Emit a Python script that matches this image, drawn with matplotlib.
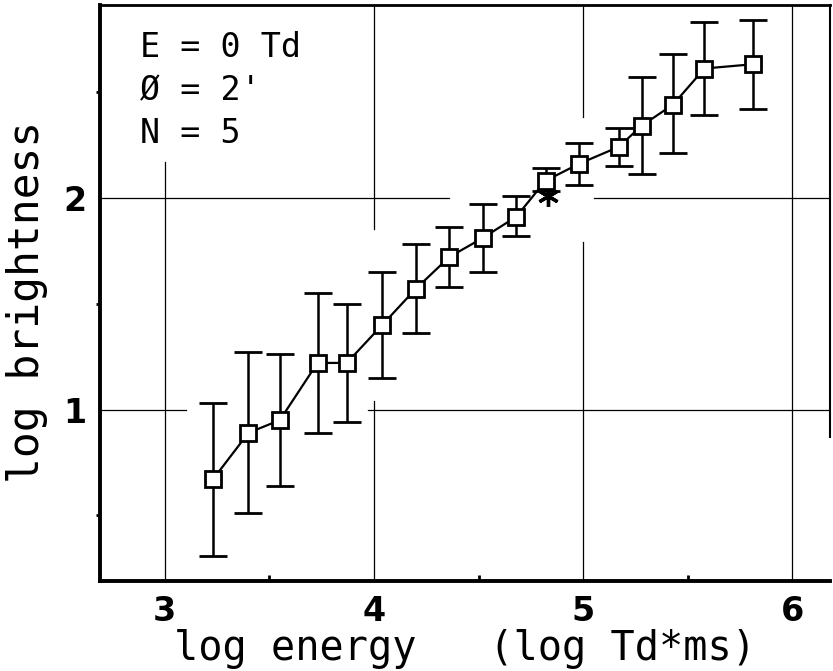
import numpy as np
import matplotlib.pyplot as plt

# data
log_energy = [3.23, 3.40, 3.55, 3.73, 3.87, 4.04, 4.20, 4.36, 4.52, 4.68,
              4.82, 4.98, 5.17, 5.28, 5.43, 5.58, 5.81]
log_bright = [0.67, 0.89, 0.95, 1.22, 1.22, 1.40, 1.57, 1.72, 1.81, 1.91,
              2.08, 2.16, 2.24, 2.34, 2.44, 2.61, 2.63]
err_top = [1.03, 1.27, 1.26, 1.55, 1.50, 1.65, 1.78, 1.86, 1.97, 2.01,
           2.14, 2.26, 2.33, 2.57, 2.68, 2.83, 2.84]
err_bot = [0.31, 0.51, 0.64, 0.89, 0.94, 1.15, 1.36, 1.58, 1.65, 1.82,
           2.03, 2.06, 2.15, 2.11, 2.21, 2.39, 2.42]
star_x = [4.83]
star_y = [2.01]

info = ["E = 0 Td", "\u00d8 = 2'", "N = 5"]

# broken grid lines of the original: (position, start, end)
grid_v = [(3, 0.19, 2.17), (4, 1.85, 2.91), (4, 0.19, 1.04),
          (5, 2.38, 2.91), (5, 0.19, 1.79), (6, 0.19, 2.91)]
grid_h = [(2, 2.69, 4.36), (2, 5.05, 6.18), (1, 2.69, 3.10), (1, 3.97, 6.18)]

dpi = 100
fig = plt.figure(figsize=(833 / dpi, 671 / dpi), dpi=dpi)
ax = fig.add_axes([0.120, 0.134, 0.8764, 0.8586])

mono = 'DejaVu Sans Mono'

for x, y0, y1 in grid_v:
    ax.plot([x, x], [y0, y1], color='black', lw=0.9, zorder=1)
for y, x0, x1 in grid_h:
    ax.plot([x0, x1], [y, y], color='black', lw=0.9, zorder=1)

lo = np.array(log_bright) - np.array(err_bot)
hi = np.array(err_top) - np.array(log_bright)
ax.errorbar(log_energy, log_bright, yerr=[lo, hi], color='black', lw=1.6,
            elinewidth=1.8, capsize=10, capthick=2.2, marker='s',
            markersize=12, markerfacecolor='white', markeredgecolor='black',
            markeredgewidth=2, zorder=3)
ax.plot(star_x, star_y, linestyle='none', marker=(6, 2, 0), markersize=15,
        color='black', markeredgewidth=2.4, zorder=2)

ax.set_xlim(2.69, 6.18)
ax.set_ylim(0.19, 2.91)
ax.set_xticks([3, 4, 5, 6])
ax.set_xticks([3.5, 4.5, 5.5], minor=True)
ax.set_yticks([1, 2])
ax.set_yticks([0.5, 1.5, 2.5], minor=True)
ax.tick_params(which='major', length=0, labelsize=24, pad=10)
ax.tick_params(axis='x', which='minor', direction='in', length=4, width=2)
ax.tick_params(axis='y', which='minor', direction='out', length=3, width=2)
for lab in ax.get_xticklabels() + ax.get_yticklabels():
    lab.set_fontweight('bold')

ax.spines['left'].set_linewidth(2.8)
ax.spines['bottom'].set_linewidth(2.8)
ax.spines['top'].set_linewidth(2.0)
ax.spines['right'].set_linewidth(1.5)
ax.spines['right'].set_bounds(0.87, 2.91)

for i, t in enumerate(info):
    ax.text(0.055, 0.955 - i * 0.0747, t, transform=ax.transAxes, family=mono,
            fontsize=24, va='top', ha='left')

ax.set_xlabel("log energy   (log Td*ms)", family=mono, fontsize=29, labelpad=1)
ax.set_ylabel("log brightness", family=mono, fontsize=31)
ax.yaxis.set_label_coords(-0.071, 0.484)

fig.savefig('out.png', dpi=dpi)
